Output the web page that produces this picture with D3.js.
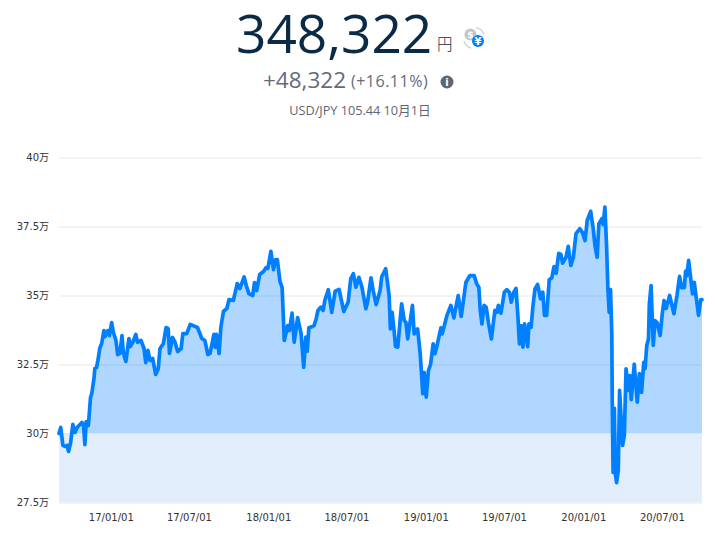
<!DOCTYPE html>
<html><head><meta charset="utf-8">
<script src="https://cdn.jsdelivr.net/npm/d3@7/dist/d3.min.js"></script>
<style>
html,body{margin:0;padding:0;background:#fff;}
svg{display:block;}
text{font-family:"DejaVu Sans","Noto Sans CJK JP",sans-serif;}
</style></head><body>
<svg id="c" width="715" height="538"></svg>
<script>
const startDate = Date.UTC(2016, 8, 3);
const dayOffsets = [0,4,9,14,19,22,27,32,37,42,53,57,60,63,68,73,76,81,83,87,90,95,99,104,107,113,117,122,126,132,136,141,146,149,155,162,165,171,178,182,190,197,201,206,211,217,224,230,234,242,248,253,256,263,269,275,283,287,296,304,311,321,331,338,345,350,359,362,365,371,375,381,389,394,404,413,419,429,434,440,449,453,458,465,474,480,484,491,497,502,506,512,517,520,522,530,534,540,545,553,561,567,572,575,579,587,591,596,600,607,612,616,624,632,640,649,660,670,676,682,688,695,702,711,715,723,728,735,744,748,757,765,768,772,776,780,785,794,800,804,808,819,823,831,837,843,846,851,856,861,867,871,875,885,888,899,908,915,925,932,943,952,962,968,973,976,980,985,990,995,1002,1010,1015,1018,1024,1032,1038,1044,1048,1054,1059,1063,1067,1071,1075,1079,1086,1089,1094,1098,1103,1109,1116,1121,1125,1130,1136,1142,1147,1152,1158,1163,1167,1175,1180,1186,1192,1198,1207,1213,1219,1224,1232,1238,1242,1247,1251,1258,1261,1265,1269,1272,1275,1278,1281,1282,1284,1287,1289,1292,1296,1299,1306,1310,1314,1320,1323,1326,1333,1340,1345,1350,1355,1358,1362,1366,1368,1372,1377,1381,1386,1393,1398,1402,1407,1415,1425,1432,1438,1443,1449,1452,1455,1459,1464,1468,1472,1482,1487,1490];
const values = [30.00,30.22,29.57,29.53,29.57,29.35,29.67,30.33,30.04,30.22,30.40,30.29,29.60,30.43,30.29,31.30,31.45,31.99,32.35,32.39,32.64,33.12,33.26,33.73,33.51,33.73,33.55,34.02,33.66,33.37,32.86,32.90,33.55,32.93,32.61,33.44,33.15,33.30,33.59,33.30,33.37,33.08,32.57,33.01,32.64,32.72,32.14,32.35,33.08,33.26,33.84,33.80,32.90,33.48,33.30,32.97,33.08,33.62,33.62,33.95,33.91,33.84,33.44,33.37,32.86,32.90,33.59,33.12,33.59,32.90,33.84,34.42,34.53,34.85,34.82,35.43,35.25,35.67,35.36,35.07,35.00,35.47,35.18,35.76,35.87,36.01,35.98,36.60,35.94,36.30,36.30,35.51,35.29,34.17,33.37,33.91,33.73,34.36,33.31,34.20,33.62,32.40,33.49,32.98,33.83,33.88,33.91,34.16,34.46,34.58,34.46,34.82,35.21,34.39,35.16,35.22,34.42,34.76,35.60,35.79,35.30,35.66,35.30,34.52,34.76,35.64,35.18,34.67,35.18,35.69,35.97,35.00,33.79,34.39,33.80,33.15,33.13,34.70,34.09,34.02,33.43,34.64,33.61,33.79,32.89,31.44,32.22,31.32,32.28,32.50,33.25,32.89,33.12,33.83,33.61,34.28,34.64,34.19,35.00,34.24,35.48,35.72,35.72,35.42,35.29,34.49,33.97,34.64,34.57,34.03,33.43,34.46,34.39,34.64,34.36,35.12,35.21,35.11,34.76,35.12,35.26,34.34,33.25,33.91,33.13,33.97,33.15,33.97,33.85,34.58,35.24,35.40,34.88,35.12,34.28,34.28,35.57,35.64,36.05,35.81,36.53,36.49,36.17,36.39,36.78,36.09,36.39,37.24,37.42,37.28,36.99,37.72,38.05,37.42,36.81,36.39,37.60,37.78,37.57,38.20,36.75,35.21,34.39,35.21,33.62,31.20,28.59,30.91,28.59,28.22,28.66,31.56,29.57,29.93,32.34,31.56,32.10,31.23,32.51,31.14,32.17,31.49,32.58,32.35,33.19,33.43,34.70,35.36,33.19,34.09,34.02,33.55,34.34,34.82,34.53,35.00,34.34,35.00,35.69,35.28,35.29,35.88,35.72,36.27,35.60,35.06,35.48,34.28,34.85,34.85];
const yTicks = [27.5,30,32.5,35,37.5,40];
const xTickDates = ["2017-01-01","2017-07-01","2018-01-01","2018-07-01","2019-01-01","2019-07-01","2020-01-01","2020-07-01"];
const baseValue = 30;

const DAY = 864e5;
const series = values.map((v,i)=>({date:new Date(startDate+dayOffsets[i]*DAY), value:v}));
const svg = d3.select("#c");
const x = d3.scaleUtc().domain([new Date(startDate), new Date(startDate+1490*DAY)]).range([59,702]);
const y = d3.scaleLinear().domain([27.5,40]).range([502.5,157.5]);

const gy = svg.append("g").attr("transform","translate(59,0)")
  .call(d3.axisLeft(y).tickValues(yTicks).tickSize(-643).tickPadding(10).tickFormat(d=>d+"万"));
gy.select(".domain").remove();
gy.selectAll("line").attr("stroke","#e8e8e8");
gy.selectAll("text").attr("font-size",10).attr("fill","#333");

svg.append("rect").attr("x",59).attr("width",643).attr("y",y(baseValue)).attr("height",y(27.5)-y(baseValue)).attr("fill","#e1edfa");

const clip = svg.append("clipPath").attr("id","above");
clip.append("rect").attr("x",59).attr("width",643).attr("y",0).attr("height",y(baseValue));
svg.append("path").datum(series).attr("clip-path","url(#above)").attr("fill","rgba(0,127,255,0.31)")
  .attr("d",d3.area().x(d=>x(d.date)).y0(y(baseValue)).y1(d=>y(d.value)));

svg.append("path").datum(series).attr("fill","none").attr("stroke","#007fff").attr("stroke-width",3.7)
  .attr("stroke-linejoin","round").attr("stroke-linecap","round")
  .attr("d",d3.line().x(d=>x(d.date)).y(d=>y(d.value)));

const fmt = d3.utcFormat("%y/%m/%d");
const gx = svg.append("g").attr("transform","translate(0,502.5)")
  .call(d3.axisBottom(x).tickValues(xTickDates.map(s=>new Date(s+"T00:00:00Z"))).tickSize(0).tickPadding(11).tickFormat(fmt));
gx.select(".domain").remove();
gx.selectAll("text").attr("font-size",10).attr("fill","#333");

const t = (s,xp,yp,size,fill,anchor,extra)=>{const e=svg.append("text").attr("x",xp).attr("y",yp).attr("font-size",size).attr("fill",fill).attr("text-anchor",anchor||"start").text(s);if(extra)e.style("font-family",extra);return e;};
t("348,322",236,53,53.2,"#0b2a45","start",'"Open Sans"').attr("font-weight",400);
t("円",437,50,15.5,"#0b2a45","start",'"Noto Sans CJK JP"').attr("font-weight",300);
t("+48,322",263,88,22.5,"#636b7b","start",'"Open Sans"').attr("font-weight",400);
t("(+16.11%)",351,87,16,"#636b7b","start",'"Open Sans"').attr("font-weight",400).attr("letter-spacing",0.5);
t("USD/JPY 105.44 10月1日",360,115,12.7,"#5f6675","middle",'"Open Sans","Noto Sans CJK JP"').attr("font-weight",400);
svg.append("circle").attr("cx",447).attr("cy",82).attr("r",6.5).attr("fill","#5f6675");
t("i",447,86,10,"#fff","middle").attr("font-weight",700);
svg.append("circle").attr("cx",470.5).attr("cy",34.5).attr("r",6).attr("fill","#c2c6cd");
t("$",470.5,38,9,"#fff","middle").attr("font-weight",700);
svg.append("circle").attr("cx",478).attr("cy",41).attr("r",6).attr("fill","#007fff");
t("¥",478,44.5,10,"#fff","middle").attr("font-weight",700);
const arc = d3.arc().innerRadius(10).outerRadius(11.2);
const ic = svg.append("g").attr("transform","translate(474,38)").attr("fill","#c8ccd2");
ic.append("path").attr("d",arc({startAngle:0.2,endAngle:1.2}));
ic.append("path").attr("d",arc({startAngle:3.4,endAngle:4.4}));
</script>
</body></html>
